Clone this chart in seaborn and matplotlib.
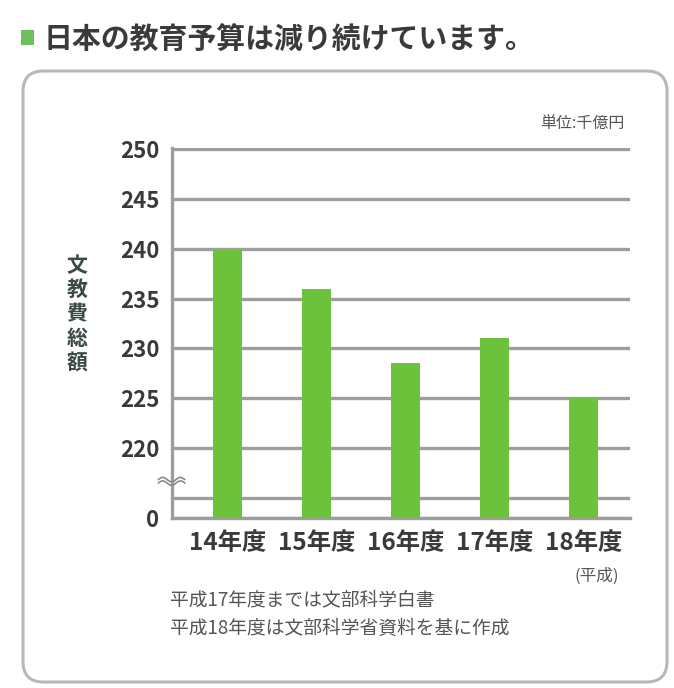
import numpy as np
import matplotlib
matplotlib.use("Agg")
import matplotlib.pyplot as plt
import seaborn as sns
import pandas as pd
from matplotlib.patches import FancyBboxPatch, Rectangle

# 文教費総額（単位：千億円）
years = ["14年度", "15年度", "16年度", "17年度", "18年度"]
budget = [240.0, 236.0, 228.5, 231.0, 225.0]
ytick_values = [0, 215, 220, 225, 230, 235, 240, 245, 250]
ytick_labels = ["0", "", "220", "225", "230", "235", "240", "245", "250"]

sns.set_theme(style="white")
plt.rcParams["font.family"] = ["Noto Sans CJK JP", "DejaVu Sans"]

GREEN = "#6cc23a"
GRID = "#9e9e9e"
TEXT = "#3a3a3a"

# broken y axis: 0..215 squeezed into two units, 1 unit per value above
BREAK = 215.0


def fwd(y):
    y = np.asarray(y, float)
    return np.where(y <= BREAK, y * 2.0 / BREAK, y - (BREAK - 2.0))


def inv(u):
    u = np.asarray(u, float)
    return np.where(u <= 2.0, u * BREAK / 2.0, u + (BREAK - 2.0))


W, H = 674, 688
fig = plt.figure(figsize=(W / 100, H / 100), dpi=100)
fig.patch.set_facecolor("white")

ax = fig.add_axes([172 / W, 1 - 518 / H, 458 / W, 370 / H])
ax.set_yscale("function", functions=(fwd, inv))

df = pd.DataFrame({"year": years, "budget": budget})
sns.barplot(data=df, x="year", y="budget", color=GREEN, saturation=1,
            width=0.33, linewidth=0, ax=ax, zorder=3)

ax.set_ylim(0, 250.1)
ax.set_xlim(-0.62, 4.52)
ax.set_yticks(ytick_values)
ax.set_yticklabels(ytick_labels)
ax.grid(axis="y", color=GRID, lw=2.4, zorder=0)
ax.grid(axis="x", visible=False)
ax.set_axisbelow(True)
ax.set_xlabel("")
ax.set_ylabel("")

for s in ("top", "right"):
    ax.spines[s].set_visible(False)
for s in ("left", "bottom"):
    ax.spines[s].set_color(GRID)
    ax.spines[s].set_linewidth(2.4)

ax.tick_params(axis="y", length=0, pad=9, labelsize=16, labelcolor=TEXT)
ax.tick_params(axis="x", length=0, pad=9, labelsize=17.5, labelcolor=TEXT)
for lab in ax.get_yticklabels() + ax.get_xticklabels():
    lab.set_fontweight("bold")

# break mark on the left spine
t = np.linspace(0, 1, 40)
bx = -0.030 + 0.058 * t
for off in (0.0, 0.35):
    by = 216.5 + off + 0.22 * np.sin(2 * np.pi * 1.5 * t)
    ax.plot(bx, by, color="#8a8a8a", lw=1.2, transform=ax.get_yaxis_transform(),
            clip_on=False, zorder=5)

# rounded frame
frame = FancyBboxPatch((23 / W, 1 - 682 / H), (667 - 23) / W, (682 - 71) / H,
                       boxstyle="round,pad=0,rounding_size=0.03",
                       transform=fig.transFigure, fc="none", ec="#b8b8b8",
                       lw=2.2, zorder=0)
fig.patches.append(frame)

# title
fig.patches.append(Rectangle((21 / W, 1 - 45 / H), 13 / W, 15 / H,
                             transform=fig.transFigure, fc="#6fbf5a", ec="none"))
fig.text(44 / W, 1 - 40 / H, "日本の教育予算は減り続けています。", fontsize=20.8,
         fontweight="bold", color=TEXT, ha="left", va="center")

fig.text(625 / W, 1 - 123 / H, "単位:千億円", fontsize=11.5, color="#555555",
         ha="right", va="center")
fig.text(77 / W, 1 - 314 / H, "文\n教\n費\n総\n額", fontsize=15, fontweight="bold",
         color="#3b4a46", ha="center", va="center", linespacing=1.2)
fig.text(597 / W, 1 - 576 / H, "(平成)", fontsize=12, color="#555555",
         ha="center", va="center")
fig.text(170 / W, 1 - 600 / H, "平成17年度までは文部科学白書", fontsize=13.5,
         color="#555555", ha="left", va="center")
fig.text(170 / W, 1 - 628 / H, "平成18年度は文部科学省資料を基に作成", fontsize=13.5,
         color="#555555", ha="left", va="center")

fig.savefig("out.png", dpi=100, facecolor="white")
